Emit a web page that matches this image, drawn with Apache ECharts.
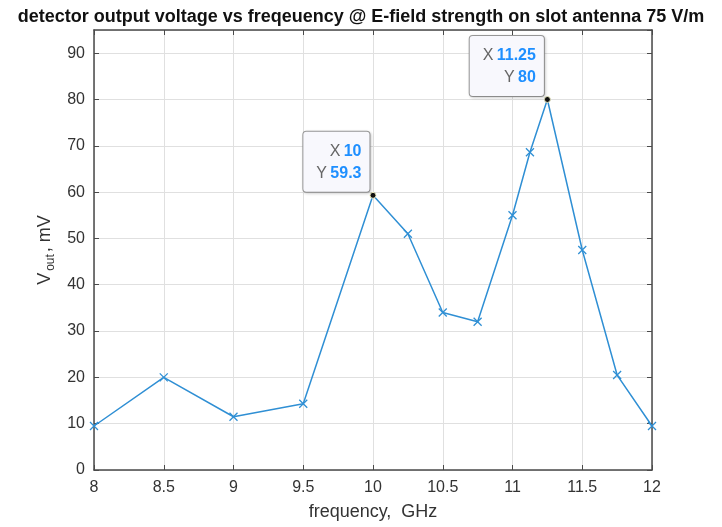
<!DOCTYPE html>
<html>
<head>
<meta charset="utf-8">
<script src="https://cdn.jsdelivr.net/npm/echarts@6/dist/echarts.min.js"></script>
<style>
  html, body { margin: 0; padding: 0; background: #fff; }
  #chart { width: 722px; height: 527px; }
</style>
</head>
<body>
<div id="chart"></div>
<script>
// Detector output voltage measured at each frequency point
const freqGHz = [8, 8.5, 9, 9.5, 10, 10.25, 10.5, 10.75, 11, 11.125, 11.25, 11.5, 11.75, 12];
const vOutMV  = [9.5, 20, 11.5, 14.3, 59.3, 51, 34, 32, 55, 68.6, 80, 47.5, 20.5, 9.5];
// Points that carry a data tip
const tipFreqs = [10, 11.25];

const axisColor = '#4a4a4a';
const textColor = '#333333';
const lineColor = '#2f8fd4';
const fontFamily = 'Liberation Sans, Arial, sans-serif';

const seriesData = freqGHz.map((f, i) => {
  const item = { value: [f, vOutMV[i]] };
  if (tipFreqs.includes(f)) {
    item.symbol = 'circle';
    item.symbolSize = 6;
    item.itemStyle = { color: '#111', borderColor: '#e8e8c0', borderWidth: 1 };
    item.label = {
      show: true,
      position: [0, 0],
      align: 'right',
      verticalAlign: 'bottom',
      formatter: '{k|X} {v|' + f + '}\n{k|Y} {v|' + vOutMV[i] + '}',
      backgroundColor: '#f8f8fd',
      borderColor: '#9a9a9a',
      borderWidth: 1,
      borderRadius: 3,
      padding: [9, 8, 7, 13],
      shadowColor: 'rgba(0,0,0,0.15)',
      shadowBlur: 3,
      shadowOffsetX: 1,
      shadowOffsetY: 1,
      rich: {
        k: { fontSize: 16, color: '#666', fontFamily, lineHeight: 22, align: 'right' },
        v: { fontSize: 16, color: '#1e8fff', fontWeight: 'bold', fontFamily, lineHeight: 22, align: 'right' }
      }
    };
  }
  return item;
});

const chart = echarts.init(document.getElementById('chart'), null, { renderer: 'canvas' });

const boxAxisCommon = {
  type: 'value',
  axisLine: { show: true, onZero: false, lineStyle: { color: axisColor, width: 1.5 } },
  axisTick: { show: true, inside: true, length: 5, lineStyle: { color: axisColor, width: 1 } },
  axisLabel: { show: false },
  splitLine: { show: false }
};

chart.setOption({
  animation: false,
  backgroundColor: '#ffffff',
  title: {
    text: 'detector output voltage vs freqeuency @ E-field strength on slot antenna 75 V/m',
    left: 'center',
    top: 3,
    textStyle: { fontSize: 18, fontWeight: 'bold', color: '#111', fontFamily }
  },
  grid: { left: 94, right: 70, top: 30, bottom: 57, containLabel: false },
  xAxis: [
    {
      type: 'value',
      min: 8, max: 12, interval: 0.5,
      position: 'bottom',
      name: 'frequency,  GHz',
      nameLocation: 'middle',
      nameGap: 33,
      nameTextStyle: { fontSize: 18, color: textColor, fontFamily },
      axisLine: { show: true, onZero: false, lineStyle: { color: axisColor, width: 1.5 } },
      axisTick: { show: true, inside: true, length: 5, lineStyle: { color: axisColor, width: 1 } },
      axisLabel: { fontSize: 16, color: textColor, fontFamily, margin: 10 },
      splitLine: { show: true, lineStyle: { color: '#e0e0e0', width: 1 } }
    },
    Object.assign({}, boxAxisCommon, { min: 8, max: 12, interval: 0.5, position: 'top' })
  ],
  yAxis: [
    {
      type: 'value',
      min: 0, max: 95, interval: 10,
      position: 'left',
      name: '{a|V}{s|out}{a|, mV}',
      nameLocation: 'middle',
      nameGap: 35,
      nameTextStyle: {
        color: textColor,
        fontFamily,
        rich: {
          a: { fontSize: 18, color: textColor, fontFamily },
          s: { fontSize: 12, color: textColor, fontFamily, padding: [11, 2, 0, 2] }
        }
      },
      axisLine: { show: true, onZero: false, lineStyle: { color: axisColor, width: 1.5 } },
      axisTick: { show: true, inside: true, length: 5, lineStyle: { color: axisColor, width: 1 } },
      axisLabel: { fontSize: 16, color: textColor, fontFamily, margin: 9, showMaxLabel: false },
      splitLine: { show: true, lineStyle: { color: '#e0e0e0', width: 1 } }
    },
    Object.assign({}, boxAxisCommon, { min: 0, max: 95, interval: 10, position: 'right' })
  ],
  series: [
    {
      type: 'line',
      xAxisIndex: 0,
      yAxisIndex: 0,
      data: seriesData,
      symbol: 'path://M0,0L10,10M10,0L0,10',
      symbolSize: 8,
      lineStyle: { color: lineColor, width: 1.5 },
      itemStyle: { color: 'rgba(0,0,0,0)', borderColor: lineColor, borderWidth: 1.3 },
      z: 3
    }
  ]
});
</script>
</body>
</html>
